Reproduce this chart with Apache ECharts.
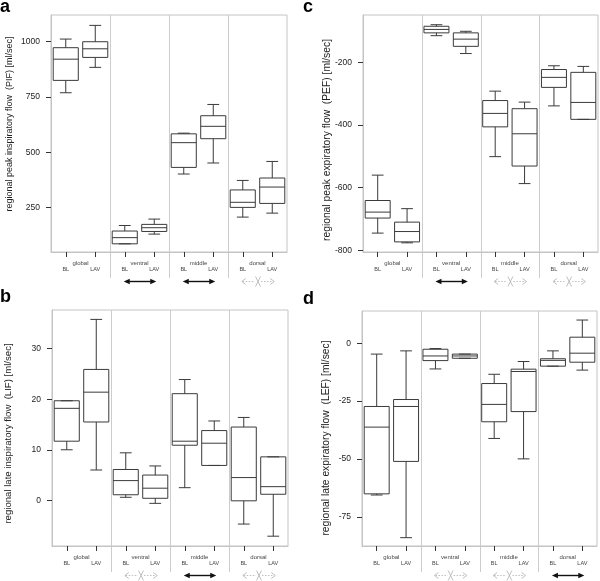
<!DOCTYPE html>
<html><head><meta charset="utf-8">
<script src="https://cdn.jsdelivr.net/npm/echarts@6/dist/echarts.min.js"></script>
<style>html,body{margin:0;padding:0;background:#fff}#c{width:600px;height:581px}</style>
</head><body><div id="c"></div>
<script>
const groups = ['global', 'ventral', 'middle', 'dorsal'];
const boxCategories = ['global BL', 'global LAV', 'ventral BL', 'ventral LAV', 'middle BL', 'middle LAV', 'dorsal BL', 'dorsal LAV'];

// each box: [min, Q1, median, Q3, max]
const pifValues = [
  [769, 825, 921, 973, 1012], [884, 929, 968, 1000, 1074],
  [85, 85, 113, 143, 168], [129, 141, 158, 173, 197],
  [401, 431, 543, 583, 586], [451, 561, 617, 665, 716],
  [206, 250, 273, 329, 372], [224, 268, 342, 383, 458]
];
const pefValues = [
  [-745, -697, -678, -641, -560], [-776, -773, -740, -710, -667],
  [-115, -106, -95, -85, -80], [-172, -149, -126, -106, -101],
  [-501, -406, -363, -322, -292], [-587, -531, -428, -348, -327],
  [-339, -280, -248, -223, -211], [-382, -382, -328, -232, -213]
];
const lifValues = [
  [10.0, 11.7, 18.2, 19.7, 19.7], [6.0, 15.5, 21.4, 25.9, 35.8],
  [0.6, 1.1, 3.9, 6.1, 9.4], [-0.6, 0.4, 2.4, 5.0, 6.8],
  [2.5, 10.9, 11.7, 21.1, 23.9], [6.9, 6.9, 11.3, 13.8, 15.7],
  [-4.7, -0.1, 4.5, 14.5, 16.4], [-7.1, 1.2, 2.7, 8.6, 8.6]
];
const lefValues = [
  [-65.5, -65.0, -36.2, -27.3, -4.7], [-83.9, -51.0, -27.3, -24.3, -3.3],
  [-11.1, -7.5, -5.5, -2.6, -2.3], [-6.5, -6.5, -5.5, -4.7, -4.7],
  [-41.1, -33.9, -26.4, -17.4, -13.4], [-49.9, -29.5, -12.2, -11.2, -7.9],
  [-9.9, -9.9, -7.4, -6.7, -3.3], [-11.6, -8.2, -4.3, 2.6, 10.0]
];

const pifTicks = [250, 500, 750, 1000];
const pefTicks = [-800, -600, -400, -200];
const lifTicks = [0, 10, 20, 30];
const lefTicks = [-75, -50, -25, 0];

// 1 = significant (black arrow), 0 = not significant (grey crossed arrow), null = none
const pifSig = [null, 1, 1, 0];
const pefSig = [null, 1, 0, 0];
const lifSig = [null, 0, 1, 0];
const lefSig = [null, 0, 0, 1];

const panels = [
  {letter: 'a', values: pifValues, ticks: pifTicks, sig: pifSig, min: 48, max: 1121,
   name: 'regional peak inspiratory flow  (PIF) [ml/sec]', grid: {left: 51, top: 15, width: 236, height: 237},
   title: {x: 9.5, y: 124, size: 9}, lx: 0, ly: -2},
  {letter: 'c', values: pefValues, ticks: pefTicks, sig: pefSig, min: -805.3, max: -49,
   name: 'regional peak expiratory flow  (PEF) [ml/sec]', grid: {left: 363, top: 15, width: 235, height: 237},
   title: {x: 327, y: 140, size: 10.3}, lx: 303, ly: -2},
  {letter: 'b', values: lifValues, ticks: lifTicks, sig: lifSig, min: -9.04, max: 37.66,
   name: 'regional late inspiratory flow  (LIF) [ml/sec]', grid: {left: 52, top: 310, width: 236, height: 236},
   title: {x: 8.5, y: 433.5, size: 9.6}, lx: 0, ly: 288},
  {letter: 'd', values: lefValues, ticks: lefTicks, sig: lefSig, min: -87.5, max: 13.9,
   name: 'regional late expiratory flow  (LEF) [ml/sec]', grid: {left: 362, top: 311, width: 235, height: 235},
   title: {x: 326, y: 438, size: 10.3}, lx: 303, ly: 290}
];

const FONT = 'Liberation Sans';
const LINE = '#3a3a3a';

function renderBox(params, api) {
  const x = api.value(0);
  const v = [1, 2, 3, 4, 5].map(i => api.value(i));
  const band = api.size([1, 0])[0];
  const bw = band * 0.85 / 2, cw = band * 0.2;
  const p = v.map(val => api.coord([x, val]));
  const cx = p[0][0];
  const st = {stroke: LINE, lineWidth: 1, fill: null};
  return {type: 'group', children: [
    {type: 'line', shape: {x1: cx, y1: p[4][1], x2: cx, y2: p[3][1]}, style: st},
    {type: 'line', shape: {x1: cx, y1: p[1][1], x2: cx, y2: p[0][1]}, style: st},
    {type: 'line', shape: {x1: cx - cw, y1: p[4][1], x2: cx + cw, y2: p[4][1]}, style: st},
    {type: 'line', shape: {x1: cx - cw, y1: p[0][1], x2: cx + cw, y2: p[0][1]}, style: st},
    {type: 'rect', shape: {x: cx - bw, y: p[3][1], width: 2 * bw, height: p[1][1] - p[3][1]}, style: {stroke: LINE, fill: 'rgba(0,0,0,0)', lineWidth: 1}},
    {type: 'line', shape: {x1: cx - bw, y1: p[2][1], x2: cx + bw, y2: p[2][1]}, style: st}
  ]};
}

const option = {
  animation: false,
  backgroundColor: '#fff',
  grid: [], xAxis: [], yAxis: [], series: []
};

panels.forEach((p, i) => {
  option.grid.push(Object.assign({show: true, borderColor: '#c4c4c4', borderWidth: 1, containLabel: false}, p.grid));
  option.xAxis.push({
    type: 'category', gridIndex: i, data: boxCategories, position: 'bottom',
    axisLine: {show: true, onZero: false, lineStyle: {color: '#c4c4c4'}},
    axisTick: {show: true, alignWithLabel: true, length: 5, lineStyle: {color: '#333'}},
    axisLabel: {show: true, margin: 14, fontSize: 5.5, color: '#444', fontFamily: FONT,
      formatter: v => v.split(' ')[1]},
    splitLine: {show: false}
  });
  option.xAxis.push({
    type: 'category', gridIndex: i, data: groups, position: 'bottom',
    axisLine: {show: false, onZero: false}, axisTick: {show: false},
    axisLabel: {show: true, margin: 8, fontSize: 6, color: '#444', fontFamily: FONT},
    splitLine: {show: false}
  });
  option.yAxis.push({
    type: 'value', gridIndex: i, min: p.min, max: p.max,
    axisLine: {show: true, onZero: false, lineStyle: {color: '#c4c4c4'}},
    axisTick: {show: true, length: 5, customValues: p.ticks, lineStyle: {color: '#333'}},
    axisLabel: {show: true, customValues: p.ticks, margin: 11, fontSize: 8.5, color: '#222', fontFamily: FONT,
      formatter: v => String(v)},
    splitLine: {show: false}
  });
  option.series.push({
    type: 'custom', xAxisIndex: i * 2, yAxisIndex: i,
    data: p.values.map((v, k) => [k].concat(v)),
    encode: {x: 0, y: [1, 2, 3, 4, 5]},
    renderItem: renderBox, silent: true
  });
});

const chart = echarts.init(document.getElementById('c'), null, {renderer: 'canvas'});
chart.setOption(option);

const graphics = [];
panels.forEach((p, i) => {
  const px = k => chart.convertToPixel({xAxisIndex: i * 2}, k);
  const top = p.grid.top, bottom = p.grid.top + p.grid.height;
  for (let k = 1; k < 4; k++) {
    const x = Math.round((px(2 * k - 1) + px(2 * k)) / 2) + 0.5;
    graphics.push({type: 'line', silent: true, shape: {x1: x, y1: top, x2: x, y2: bottom + 26},
      style: {stroke: '#cccccc', lineWidth: 1}});
  }
  const y = bottom + 29.5;
  p.sig.forEach((s, k) => {
    if (s === null) return;
    const x1 = px(2 * k) - 1, x2 = px(2 * k + 1) + 2;
    if (s === 1) {
      graphics.push({type: 'line', silent: true, shape: {x1: x1 + 3, y1: y, x2: x2 - 3, y2: y}, style: {stroke: '#111', lineWidth: 1.4}});
      graphics.push({type: 'polygon', silent: true, shape: {points: [[x1, y], [x1 + 6, y - 2.8], [x1 + 6, y + 2.8]]}, style: {fill: '#111'}});
      graphics.push({type: 'polygon', silent: true, shape: {points: [[x2, y], [x2 - 6, y - 2.8], [x2 - 6, y + 2.8]]}, style: {fill: '#111'}});
    } else {
      const c = '#b0b0b0', cx = (x1 + x2) / 2;
      graphics.push({type: 'line', silent: true, shape: {x1: x1 + 1, y1: y, x2: cx - 3, y2: y}, style: {stroke: c, lineWidth: 0.8, lineDash: [1.5, 1.5]}});
      graphics.push({type: 'line', silent: true, shape: {x1: cx + 3, y1: y, x2: x2 - 1, y2: y}, style: {stroke: c, lineWidth: 0.8, lineDash: [1.5, 1.5]}});
      graphics.push({type: 'polyline', silent: true, shape: {points: [[x1 + 4, y - 3], [x1, y], [x1 + 4, y + 3]]}, style: {stroke: c, lineWidth: 0.8, fill: null}});
      graphics.push({type: 'polyline', silent: true, shape: {points: [[x2 - 4, y - 3], [x2, y], [x2 - 4, y + 3]]}, style: {stroke: c, lineWidth: 0.8, fill: null}});
      graphics.push({type: 'line', silent: true, shape: {x1: cx - 2.5, y1: y - 5, x2: cx + 2.5, y2: y + 5}, style: {stroke: c, lineWidth: 0.8}});
      graphics.push({type: 'line', silent: true, shape: {x1: cx + 2.5, y1: y - 5, x2: cx - 2.5, y2: y + 5}, style: {stroke: c, lineWidth: 0.8}});
    }
  });
  graphics.push({type: 'text', silent: true, x: p.title.x, y: p.title.y, rotation: Math.PI / 2,
    style: {text: p.name, font: p.title.size + 'px "' + FONT + '"', fill: '#222', textAlign: 'center', textVerticalAlign: 'middle'}});
  graphics.push({type: 'text', silent: true, x: p.lx, y: p.ly,
    style: {text: p.letter, font: 'bold 18px "' + FONT + '"', fill: '#000', textVerticalAlign: 'top'}});
});
chart.setOption({graphic: graphics});
</script>
</body></html>
